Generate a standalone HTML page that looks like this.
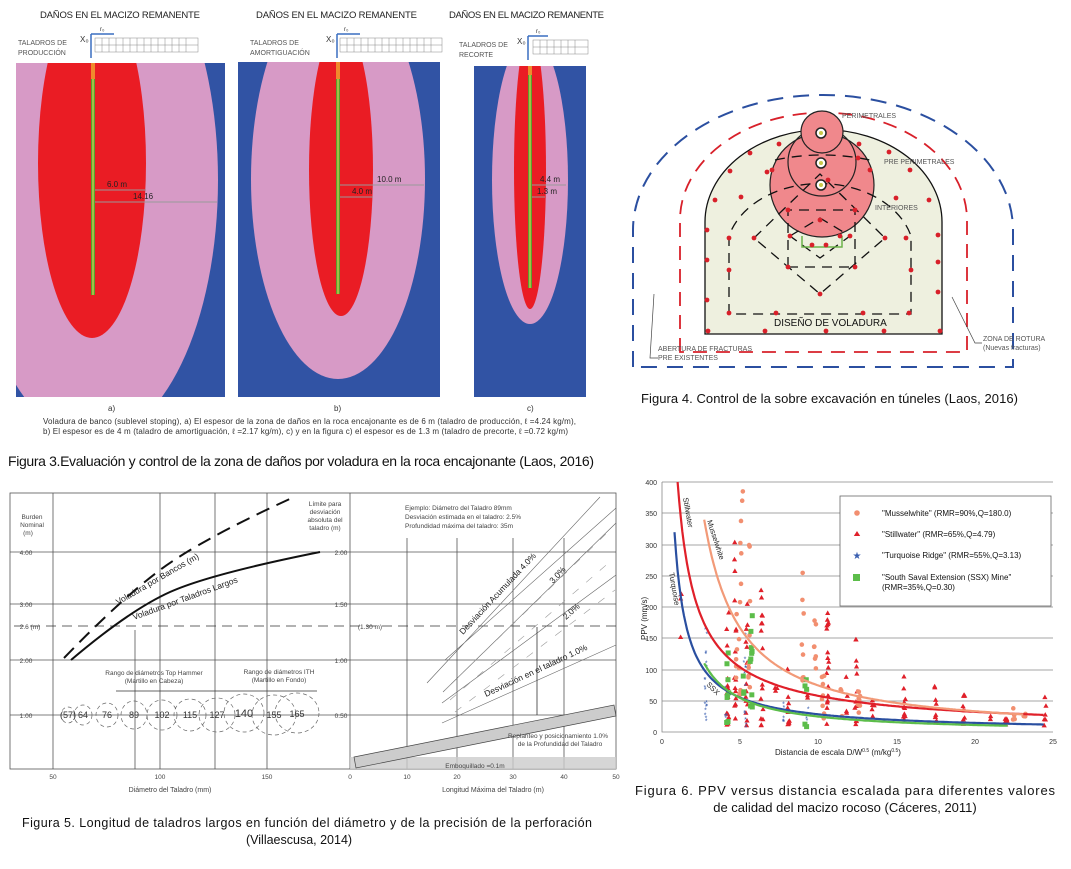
<!DOCTYPE html>
<html><head><meta charset="utf-8"><style>
body{margin:0;background:#fff}
svg{display:block;font-family:"Liberation Sans",sans-serif}
.cap{font-family:"Liberation Sans Narrow","Liberation Sans",sans-serif}
</style></head><body>
<svg id="s" width="1071" height="869" viewBox="0 0 1071 869" xmlns="http://www.w3.org/2000/svg">
<defs>
<clipPath id="ca"><rect x="16" y="63" width="209" height="334"/></clipPath>
<clipPath id="cb"><rect x="238" y="62" width="202" height="335"/></clipPath>
<clipPath id="cc"><rect x="474" y="66" width="112" height="331"/></clipPath>
</defs>
<!-- FIGURE 3 -->
<g font-size="9.5" fill="#222">
<text x="40" y="18" textLength="160">DAÑOS EN EL MACIZO REMANENTE</text>
<text x="256" y="18" textLength="161">DAÑOS EN EL MACIZO REMANENTE</text>
<text x="449" y="18" textLength="155">DAÑOS EN EL MACIZO REMANENTE</text>
</g>
<g font-size="7" fill="#555">
<text x="18" y="45">TALADROS DE</text><text x="18" y="55">PRODUCCIÓN</text>
<text x="250" y="45">TALADROS DE</text><text x="250" y="55">AMORTIGUACIÓN</text>
<text x="459" y="47">TALADROS DE</text><text x="459" y="57">RECORTE</text>
</g>
<g stroke="#3a6fc0" stroke-width="1.5" fill="none">
<path d="M91,34 V58 M91,34 H114"/><path d="M337,34 V58 M337,34 H360"/><path d="M528,36 V60 M528,36 H548"/>
</g>
<g font-size="8" fill="#333"><text x="80" y="42">X₀</text><text x="100" y="31" font-size="6">r₀</text>
<text x="326" y="42">X₀</text><text x="344" y="31" font-size="6">r₀</text>
<text x="517" y="44">X₀</text><text x="536" y="33" font-size="6">r₀</text></g>
<g fill="#fff" stroke="#888" stroke-width="0.5">
<rect x="95" y="38" width="103" height="14"/><rect x="340" y="38" width="102" height="14"/><rect x="533" y="40" width="55" height="14"/>
<path d="M95,45 H198 M340,45 H442 M533,47 H588 M102,38 V52 M109,38 V52 M116,38 V52 M123,38 V52 M130,38 V52 M137,38 V52 M144,38 V52 M151,38 V52 M158,38 V52 M165,38 V52 M172,38 V52 M179,38 V52 M186,38 V52 M347,38 V52 M354,38 V52 M361,38 V52 M368,38 V52 M375,38 V52 M382,38 V52 M389,38 V52 M396,38 V52 M403,38 V52 M410,38 V52 M417,38 V52 M424,38 V52 M431,38 V52 M540,40 V54 M547,40 V54 M554,40 V54 M561,40 V54 M568,40 V54 M575,40 V54"/>
</g>
<g clip-path="url(#ca)"><rect x="16" y="63" width="209" height="334" fill="#3153a4"/>
<ellipse cx="93" cy="180" rx="125" ry="260" fill="#d79ac6"/><ellipse cx="92" cy="163" rx="54" ry="175" fill="#ea1c24"/></g>
<g clip-path="url(#cb)"><rect x="238" y="62" width="202" height="335" fill="#3153a4"/>
<ellipse cx="338" cy="179" rx="87" ry="200" fill="#d79ac6"/><ellipse cx="341" cy="170" rx="32" ry="146" fill="#ea1c24"/></g>
<g clip-path="url(#cc)"><rect x="474" y="66" width="112" height="331" fill="#3153a4"/>
<ellipse cx="530" cy="180" rx="38" ry="144" fill="#d79ac6"/><ellipse cx="530" cy="170" rx="16" ry="139" fill="#ea1c24"/></g>
<g>
<rect x="91" y="63" width="4" height="16" fill="#f08a2c"/><rect x="91" y="79" width="4" height="216" fill="#5aa02c"/><rect x="92.5" y="79" width="1" height="216" fill="#e8e060"/>
<rect x="336" y="62" width="4" height="17" fill="#f08a2c"/><rect x="336" y="79" width="4" height="215" fill="#5aa02c"/><rect x="337.5" y="79" width="1" height="215" fill="#e8e060"/>
<rect x="528" y="66" width="4" height="9" fill="#f08a2c"/><rect x="528" y="75" width="4" height="213" fill="#5aa02c"/><rect x="529.5" y="75" width="1" height="213" fill="#e8e060"/>
</g>
<g stroke="#999" stroke-width="1"><path d="M95,190 H146 M95,202 H217 M340,185 H424 M340,197 H373 M532,185 H566 M532,197 H545"/></g>
<g font-size="8" fill="#222"><text x="107" y="187">6.0 m</text><text x="133" y="199">14.16</text>
<text x="377" y="182">10.0 m</text><text x="352" y="194">4.0 m</text>
<text x="540" y="182">4.4 m</text><text x="537" y="194">1.3 m</text></g>
<g font-size="8" fill="#333"><text x="108" y="411">a)</text><text x="334" y="411">b)</text><text x="527" y="411">c)</text>
<text x="43" y="424" textLength="533">Voladura de banco (sublevel stoping), a) El espesor de la zona de daños en la roca encajonante es de 6 m (taladro de producción, ℓ =4.24 kg/m),</text>
<text x="43" y="434" textLength="525">b) El espesor es de 4 m (taladro de amortiguación, ℓ =2.17 kg/m), c)  y en la figura c) el espesor es de 1.3 m (taladro de precorte, ℓ =0.72 kg/m)</text></g>
<text x="8" y="466" font-size="14" class="cap" fill="#111" textLength="586">Figura 3.Evaluación y control de la zona de daños por voladura en la roca encajonante (Laos, 2016)</text>

<!-- FIGURE 4 -->
<path d="M633,367 V230 A190 135 0 0 1 1013,230 V367 Z" fill="none" stroke="#2b4fa0" stroke-width="2" stroke-dasharray="16,10"/>
<path d="M680,352 V220 A143 107 0 0 1 967,220 V352 Z" fill="none" stroke="#d8202a" stroke-width="1.8" stroke-dasharray="14,9"/>
<path d="M705,334 V222 A118 92 0 0 1 942,222 V334 Z" fill="#eef0df" stroke="#111" stroke-width="1.3"/>
<circle cx="822" cy="185" r="52" fill="#f0888c" stroke="#222" stroke-width="1.2"/>
<circle cx="822" cy="162" r="34" fill="none" stroke="#222" stroke-width="1.2"/>
<circle cx="822" cy="132" r="21" fill="#f0888c" stroke="#222" stroke-width="1.2"/>
<g fill="none" stroke="#111" stroke-width="1.3" stroke-dasharray="10,7">
<path d="M729,314 V236 A94 70 0 0 1 911,236 V314 Z"/>
<path d="M788,267 V210 H855 V267 Z"/>
<path d="M754,238 L820,174 L885,238 L820,294 Z"/>
<path d="M790,236 L820,218 L850,236 L820,258 Z"/>
<path d="M775,160 Q822,150 870,160"/>
</g>
<path d="M802,236 V247 H842 V236" fill="none" stroke="#6bb24a" stroke-width="1.5"/>
<g fill="#fff" stroke="#222" stroke-width="1.5"><circle cx="821" cy="133" r="5"/><circle cx="821" cy="163" r="5"/><circle cx="821" cy="185" r="5"/></g>
<g fill="#c8c84a"><circle cx="821" cy="133" r="2"/><circle cx="821" cy="163" r="2"/><circle cx="821" cy="185" r="2"/></g>
<g fill="#d8202a" id="f4dots"></g>
<g font-size="7" fill="#555"><text x="842" y="118">PERIMETRALES</text><text x="884" y="164">PRE PERIMETRALES</text><text x="875" y="210">INTERIORES</text>
<text x="658" y="351">ABERTURA DE FRACTURAS</text><text x="658" y="360">PRE EXISTENTES</text>
<text x="983" y="341">ZONA DE ROTURA</text><text x="983" y="350">(Nuevas fracturas)</text></g>
<path d="M654,294 L650,358 H658 M952,297 L975,343 H982" fill="none" stroke="#444" stroke-width="0.7"/>
<text x="774" y="326" font-size="10" fill="#111">DISEÑO DE VOLADURA</text>
<text x="641" y="403" font-size="13" class="cap" fill="#111" textLength="377">Figura 4. Control de la sobre excavación en túneles (Laos, 2016)</text>

<!-- FIGURE 5 -->
<g stroke="#555" stroke-width="0.8" fill="none">
<rect x="10" y="493" width="606" height="276"/>
<path d="M350,493 V769"/>
<path d="M10,552 H616 M10,604 H616 M10,660 H616 M10,715 H616"/>
<path d="M53,493 V769 M160,493 V769 M267,493 V769 M215,493 V769 M135,630 V769"/>
<path d="M407,538 V769 M457,538 V769 M513,538 V769 M564,538 V769"/>
</g>
<path d="M14,626 H616" stroke="#333" stroke-width="0.8" stroke-dasharray="10,6"/>
<path d="M71,660 Q130,610 170,592 T320,552" stroke="#111" stroke-width="2" fill="none"/>
<path d="M64,658 Q120,600 160,570 T294,497" stroke="#111" stroke-width="2" fill="none" stroke-dasharray="14,8"/>
<g stroke="#666" stroke-width="0.6" fill="none">
<path d="M427,683 L600,497 M443,692 L616,523 M442,703 L616,575 M442,723 L616,645 M445,660 L616,508"/>
</g>
<g stroke="#999" stroke-width="0.6" stroke-dasharray="8,10" fill="none"><path d="M445,690 L610,530 M450,700 L612,560 M455,712 L615,590"/></g>
<path d="M537,627 V715" stroke="#333" stroke-width="0.8"/>
<rect x="350" y="757" width="266" height="12" fill="#ccc" opacity="0.8"/>
<path d="M354,757 L614,705 L616,716 L356,768 Z" fill="#ccc" stroke="#444" stroke-width="0.7"/>
<g fill="none" stroke="#666" stroke-width="0.7" stroke-dasharray="4,3">
<ellipse cx="68" cy="715" rx="7" ry="8"/><ellipse cx="83" cy="715" rx="9" ry="10"/><ellipse cx="107" cy="715" rx="11" ry="12"/><ellipse cx="134" cy="715" rx="13" ry="14"/><ellipse cx="162" cy="715" rx="15" ry="15"/><ellipse cx="190" cy="715" rx="16" ry="16"/><ellipse cx="217" cy="715" rx="18" ry="17"/><ellipse cx="244" cy="713" rx="20" ry="19"/><ellipse cx="274" cy="715" rx="22" ry="20"/><ellipse cx="297" cy="713" rx="22" ry="20"/>
</g>
<g font-size="9" fill="#333" text-anchor="middle"><text x="68" y="718">(57)</text><text x="83" y="718">64</text><text x="107" y="718">76</text><text x="134" y="718">89</text><text x="162" y="718">102</text><text x="190" y="718">115</text><text x="217" y="718">127</text><text x="244" y="717" font-size="11">140</text><text x="274" y="718">155</text><text x="297" y="717">165</text></g>
<path d="M116,691 H317" stroke="#333" stroke-width="0.8"/>
<g font-size="6.5" fill="#444" text-anchor="middle">
<text x="32" y="519">Burden</text><text x="32" y="527">Nominal</text><text x="28" y="535">(m)</text>
<text x="26" y="555">4.00</text><text x="26" y="607">3.00</text><text x="26" y="663">2.00</text><text x="26" y="718">1.00</text><text x="30" y="629">2.6 (m)</text>
<text x="325" y="506">Límite para</text><text x="325" y="514">desviación</text><text x="325" y="522">absoluta del</text><text x="325" y="530">taladro (m)</text>
<text x="341" y="555">2.00</text><text x="341" y="607">1.50</text><text x="341" y="663">1.00</text><text x="341" y="718">0.50</text><text x="370" y="629">(1.30 m)</text>
<text x="154" y="675">Rango de diámetros Top Hammer</text><text x="154" y="683">(Martillo en Cabeza)</text>
<text x="279" y="674">Rango de diámetros ITH</text><text x="279" y="682">(Martillo en Fondo)</text>
<text x="53" y="779">50</text><text x="160" y="779">100</text><text x="267" y="779">150</text>
<text x="350" y="779">0</text><text x="407" y="779">10</text><text x="457" y="779">20</text><text x="513" y="779">30</text><text x="564" y="779">40</text><text x="616" y="779">50</text>
<text x="558" y="738">Replanteo y posicionamiento 1.0%</text><text x="560" y="746">de la Profundidad del Taladro</text>
<text x="475" y="768">Emboquillado =0.1m</text>
<text x="170" y="792" font-size="7">Diámetro del Taladro (mm)</text><text x="493" y="792" font-size="7">Longitud Máxima del Taladro (m)</text>
</g>
<g font-size="6.5" fill="#444"><text x="405" y="510">Ejemplo: Diámetro del Taladro 89mm</text><text x="405" y="519">Desviación estimada en el taladro: 2.5%</text><text x="405" y="528">Profundidad máxima del taladro: 35m</text></g>
<g font-size="8.5" fill="#222">
<text transform="translate(118,605) rotate(-30)">Voladura por Bancos (m)</text>
<text transform="translate(134,620) rotate(-20)">Voladura por Taladros Largos</text>
<text transform="translate(463,635) rotate(-47)">Desviación Acumulada 4.0%</text>
<text transform="translate(553,584) rotate(-47)">3.0%</text>
<text transform="translate(566,620) rotate(-42)">2.0%</text>
<text transform="translate(486,697) rotate(-25)">Desviación en el taladro 1.0%</text>
</g>
<text x="22" y="827" font-size="12.5" class="cap" fill="#111" textLength="570">Figura 5. Longitud de taladros largos en función del diámetro y de la precisión de la perforación</text>
<text x="246" y="844" font-size="12.5" class="cap" fill="#111">(Villaescusa, 2014)</text>

<!-- FIGURE 6 -->
<g stroke="#888" stroke-width="0.8">
<path d="M662,482 H1053 M662,513 H1053 M662,545 H1053 M662,576 H1053 M662,607 H1053 M662,638 H1053 M662,670 H1053 M662,701 H1053"/>
</g>
<path d="M662,482 V732 H1053" stroke="#888" fill="none" stroke-width="0.8"/>
<g id="pts"></g>
<g id="curves" fill="none" stroke-width="2.2"></g>
<rect x="840" y="496" width="211" height="110" fill="#fff" stroke="#666" stroke-width="0.8"/>
<circle cx="857" cy="513" r="2.8" fill="#f28f70"/>
<path d="M857,531 l3.2,5 h-6.4z" fill="#e0202a"/>
<text x="857" y="559" font-size="10" fill="#3a5fb0" text-anchor="middle">★</text>
<rect x="853" y="574" width="7" height="7" fill="#5cbd4a"/>
<g font-size="8" fill="#111"><text x="882" y="516">"Musselwhite" (RMR=90%,Q=180.0)</text><text x="882" y="537">"Stillwater" (RMR=65%,Q=4.79)</text><text x="882" y="558">"Turquoise Ridge" (RMR=55%,Q=3.13)</text><text x="882" y="580">"South Saval Extension (SSX) Mine"</text><text x="882" y="590">(RMR=35%,Q=0.30)</text></g>
<g font-size="7" fill="#333" text-anchor="end"><text x="657" y="485">400</text><text x="657" y="516">350</text><text x="657" y="548">300</text><text x="657" y="579">250</text><text x="657" y="610">200</text><text x="657" y="641">150</text><text x="657" y="673">100</text><text x="657" y="704">50</text><text x="657" y="735">0</text></g>
<g font-size="7" fill="#333" text-anchor="middle"><text x="662" y="744">0</text><text x="740" y="744">5</text><text x="818" y="744">10</text><text x="897" y="744">15</text><text x="975" y="744">20</text><text x="1053" y="744">25</text></g>
<text x="775" y="755" font-size="8" fill="#222">Distancia de escala D/W<tspan font-size="5" dy="-3">0.5</tspan><tspan dy="3"> (m/kg</tspan><tspan font-size="5" dy="-3">0.5</tspan><tspan dy="3">)</tspan></text>
<text transform="translate(647,640) rotate(-90)" font-size="8" fill="#222">PPV (mm/s)</text>
<g font-size="7.5" fill="#222">
<text transform="translate(683,498) rotate(80)">Stillwater</text>
<text transform="translate(707,521) rotate(72)">Musselwhite</text>
<text transform="translate(669,573) rotate(80)">Turquoise</text>
<text transform="translate(706,685) rotate(45)">SSX</text>
</g>
<text x="845" y="795" font-size="13" class="cap" fill="#111" text-anchor="middle" textLength="420">Figura 6. PPV versus distancia escalada para diferentes valores</text>
<text x="845" y="812" font-size="13" class="cap" fill="#111" text-anchor="middle">de calidad del macizo rocoso (Cáceres, 2011)</text>
</svg>
<script>
(function(){
var NS="http://www.w3.org/2000/svg";
function el(p,t,a){var e=document.createElementNS(NS,t);for(var k in a)e.setAttribute(k,a[k]);p.appendChild(e);return e;}
var g4=document.getElementById("f4dots");
[[707,300],[707,260],[707,230],[715,200],[730,171],[750,153],[779,144],[859,144],[889,152],[910,170],[929,200],[938,235],[938,262],[938,292],[708,331],[765,331],[826,331],[884,331],[940,331],[729,313],[776,313],[863,313],[909,313],[729,270],[729,238],[741,197],[767,172],[896,198],[906,238],[911,270],[788,267],[788,210],[855,210],[855,267],[754,238],[820,294],[885,238],[820,220],[790,236],[850,236],[812,245],[826,245],[840,236],[772,170],[870,170],[828,180],[858,158]].forEach(function(p){el(g4,"circle",{cx:p[0],cy:p[1],r:2.4});});
var X=function(d){return 662+d*15.64},Y=function(v){return 732-v*0.625};
var s=7;function r(){s=(s*9301+49297)%233280;return s/233280;}
var g=document.getElementById("pts");
function col(xs,n,lo,hi,t){for(var i=0;i<n;i++){var d=xs+(r()-0.5)*0.15,v=lo+(hi-lo)*Math.pow(r(),1.6);var x=X(d),y=Y(v);
 if(t==0)el(g,"circle",{cx:x,cy:y,r:2.3,fill:"#f28f70"});
 else if(t==1)el(g,"path",{d:"M"+x+","+(y-2.8)+"l2.6,4.6h-5.2z",fill:"#e0202a"});
 else if(t==2){var e=el(g,"text",{x:x,y:y+3,"font-size":7,fill:"#3a5fb0","text-anchor":"middle"});e.textContent="*";}
 else el(g,"rect",{x:x-2.5,y:y-2.5,width:5,height:5,fill:"#5cbd4a"});}}
[[4.2,14,10,200],[4.7,16,15,310],[5.4,14,10,215],[6.4,16,10,230],[8.1,10,12,150],[10.6,18,10,200],[12.4,12,10,150],[13.5,5,25,75],[15.5,10,20,100],[17.5,10,15,108],[19.3,10,10,62],[22,6,8,30],[24.5,6,8,62],[1.2,3,150,230],[7.3,3,60,115],[11.8,4,30,90],[9.3,3,50,105],[21,2,20,30]].forEach(function(c){col(c[0],c[1],c[2],c[3],1);});
[[5.0,12,60,340],[5.6,10,60,320],[4.8,6,80,230],[9.0,8,60,305],[9.8,7,100,230],[10.3,8,20,120],[12.6,8,30,80],[11.5,4,20,70],[22.5,4,20,50],[23.2,3,25,30],[5.2,2,370,385]].forEach(function(c){col(c[0],c[1],c[2],c[3],0);});
[[2.8,18,18,185],[5.3,12,8,160],[7.8,6,12,117],[4.1,4,20,140],[9.3,3,8,40]].forEach(function(c){col(c[0],c[1],c[2],c[3],2);});
[[4.2,8,10,155],[5.7,10,40,190],[9.2,5,5,95],[5.2,3,60,140]].forEach(function(c){col(c[0],c[1],c[2],c[3],3);});
var cg=document.getElementById("curves");
function curve(K,b,d0,d1,c){var p="";for(var d=d0;d<=d1;d+=0.1){p+=(p?"L":"M")+X(d).toFixed(1)+","+Y(K*Math.pow(d,-b)).toFixed(1);}el(cg,"path",{d:p,stroke:c});}
curve(400,0.84,1.0,24.5,"#e0202a");
curve(1075,1.16,2.7,23.2,"#f29a78");
curve(258,0.96,0.8,24.5,"#2a4fa0");
curve(341,1.14,2.7,22.2,"#5cbd4a");
})();
</script>
</body></html>
